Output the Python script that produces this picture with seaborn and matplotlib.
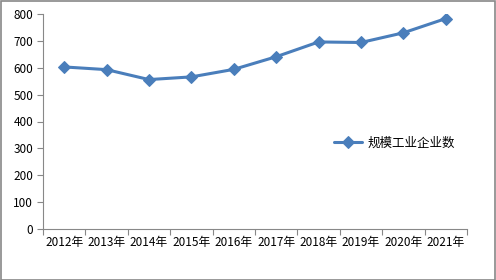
import matplotlib
matplotlib.use("Agg")
import matplotlib.pyplot as plt
import seaborn as sns
import pandas as pd
from matplotlib.patches import Rectangle

years = ["2012年", "2013年", "2014年", "2015年", "2016年", "2017年", "2018年", "2019年", "2020年", "2021年"]
values = [603, 593, 556, 566, 594, 641, 696, 694, 730, 783]
series_name = "规模工业企业数"
y_ticks = [0, 100, 200, 300, 400, 500, 600, 700, 800]

sns.set_theme(style="white")
plt.rcParams['font.family'] = ['Noto Sans CJK SC', 'DejaVu Sans']
plt.rcParams['text.color'] = 'black'
plt.rcParams['xtick.labelcolor'] = 'black'
plt.rcParams['ytick.labelcolor'] = 'black'

df = pd.DataFrame({"idx": list(range(len(years))), "value": values, "series": series_name})

fig = plt.figure(figsize=(4.96, 2.80), dpi=100)
ax = fig.add_axes([43/496, 1-229/280, (467-43)/496, (229-14)/280])

color = "#4A7EBB"
sns.lineplot(data=df, x="idx", y="value", hue="series", palette=[color], marker="D",
             markersize=6.5, markeredgecolor=color, linewidth=2.2, ax=ax)

ax.set_xlim(-0.5, len(years) - 0.5)
ax.set_ylim(0, 800)
ax.set_yticks(y_ticks)
ax.set_yticklabels([str(v) for v in y_ticks], fontsize=8.5, color="black")
ax.set_xticks([i - 0.5 for i in range(len(years) + 1)])
ax.set_xticklabels([])
ax.set_xticks(list(range(len(years))), minor=True)
ax.set_xticklabels(years, minor=True, fontsize=8.5, color="black")
ax.tick_params(axis="x", which="major", length=4, width=0.8, color="#888888", direction="out", bottom=True)
ax.tick_params(axis="x", which="minor", length=0, pad=5)
ax.tick_params(axis="y", length=4, width=0.8, color="#888888", direction="out", left=True, pad=3)
ax.set_xlabel("")
ax.set_ylabel("")
for s in ["top", "right"]:
    ax.spines[s].set_visible(False)
for s in ["left", "bottom"]:
    ax.spines[s].set_color("#888888")
    ax.spines[s].set_linewidth(0.8)
ax.grid(False)

leg = ax.legend(loc="center left", bbox_to_anchor=(323/496, 1-143/280), bbox_transform=fig.transFigure,
                frameon=False, fontsize=9, handlelength=2.2, handletextpad=0.5)
for t in leg.get_texts():
    t.set_color("black")

fig.patches.append(Rectangle((0.5/496, 0.5/280), 1-1.5/496, 1-1.5/280, transform=fig.transFigure,
                             fill=False, edgecolor="#888888", linewidth=1.2))

fig.savefig("out.png", dpi=100)
